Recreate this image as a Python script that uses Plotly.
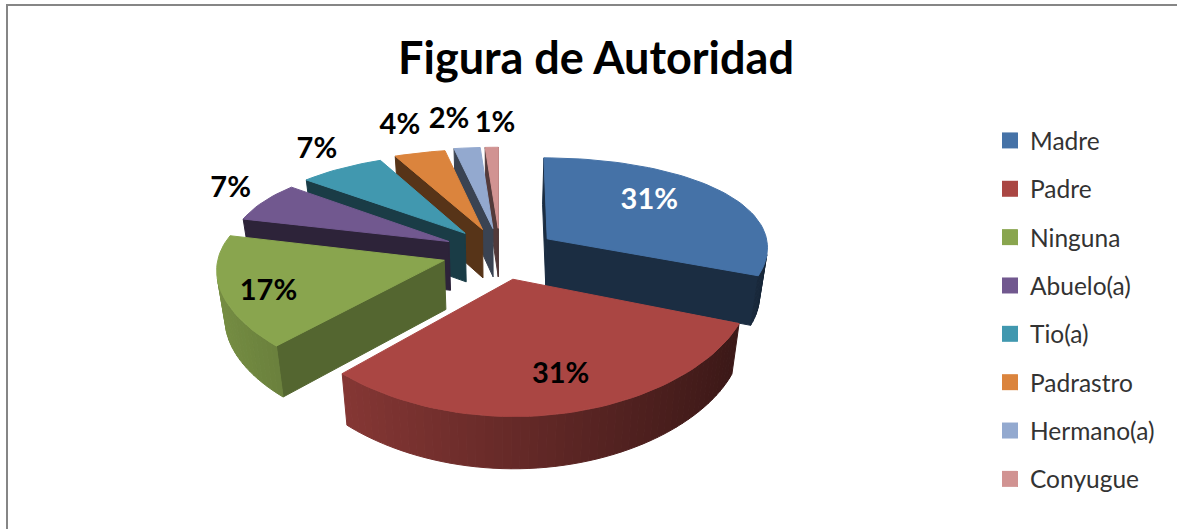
import math
import plotly.graph_objects as go

# ---- data ----
categories = ["Madre", "Padre", "Ninguna", "Abuelo(a)", "Tio(a)", "Padrastro", "Hermano(a)", "Conyugue"]
values = [31, 31, 17, 7, 7, 4, 2, 1]
colors = ["#4572A7", "#AA4643", "#89A54E", "#71588F", "#4198AF", "#DB843D", "#93A9CF", "#D19392"]
labels = ["31%", "31%", "17%", "7%", "7%", "4%", "2%", "1%"]
label_colors = ["white"] + ["black"] * 7

# ---- style / projection parameters ----
CX, CY = 500, 253
RX, RY = 231, 103
PERSP_X = 0.08
PERSP_Y = 0.174
PERSP_D = 0.05
EXPLODE = 0.25
DEPTH = 49
BOTTOM_SHRINK = 0.97
slice_scale = [0.96, 1.0, 0.975, 0.95, 0.96, 0.98, 1.0, 1.0]
label_radius = [0.56, 0.80, 0.80, 1.06, 1.15, 1.25, 1.30, 1.30]
label_nudge_x = [0, 3, 7, -12, -1, -4, -11, 5]
label_nudge_y = [-8, -6, 8, -8, -7, -9, -7, -3]
draw_order = [7, 6, 5, 4, 3, 2, 0, 1]
cut_shade = 0.40
cut_shades = {2: 0.62}


def proj(X, Y, bottom=False):
    x = RX * X / (1 - PERSP_X * Y)
    y = RY * Y / (1 - PERSP_Y * Y)
    if bottom:
        x *= BOTTOM_SHRINK
        y += DEPTH / (1 - PERSP_D * Y)
    return CX + x, CY + y


def shade(hex_color, f):
    r, g, b = (int(hex_color[i:i + 2], 16) for i in (1, 3, 5))
    return f"rgb({int(r * f)},{int(g * f)},{int(b * f)})"


def area(pts):
    return sum(pts[i][0] * pts[(i + 1) % len(pts)][1] - pts[(i + 1) % len(pts)][0] * pts[i][1]
               for i in range(len(pts)))


fig = go.Figure()


def poly(pts, color):
    fig.add_trace(go.Scatter(
        x=[p[0] for p in pts] + [pts[0][0]], y=[p[1] for p in pts] + [pts[0][1]],
        mode="lines", fill="toself", fillcolor=color,
        line=dict(color=color, width=1), hoverinfo="skip", showlegend=False))


total = sum(values)
starts = []
acc = 0
for v in values:
    starts.append(acc)
    acc += v

for i in draw_order:
    a0 = starts[i] / total * 2 * math.pi
    a1 = (starts[i] + values[i]) / total * 2 * math.pi
    mid = (a0 + a1) / 2
    ox, oy = EXPLODE * math.sin(mid), -EXPLODE * math.cos(mid)
    n = max(2, int((a1 - a0) / math.radians(2)))
    rim = []
    for k in range(n + 1):
        a = a0 + (a1 - a0) * k / n
        rim.append((ox + slice_scale[i] * math.sin(a), oy - slice_scale[i] * math.cos(a)))
    apex = (ox, oy)
    loop = [apex] + rim

    def side(P, Q, color):
        quad = [proj(*P), proj(*Q), proj(*Q, bottom=True), proj(*P, bottom=True)]
        if area(quad) < 0:
            poly(quad, color)

    cut = cut_shades.get(i, cut_shade)
    side(apex, rim[0], shade(colors[i], cut))
    side(rim[-1], apex, shade(colors[i], cut))
    for k in range(n):
        X = (rim[k][0] + rim[k + 1][0]) / 2 - ox
        side(rim[k], rim[k + 1], shade(colors[i], 0.6 - 0.27 * X))
    poly([proj(*p) for p in loop], colors[i])

# data labels
lx, ly = [], []
for i in range(len(values)):
    mid = (starts[i] + values[i] / 2) / total * 2 * math.pi
    r = label_radius[i]
    X = (EXPLODE + r) * math.sin(mid)
    Y = -(EXPLODE + r) * math.cos(mid)
    px, py = proj(X, Y)
    lx.append(px + label_nudge_x[i])
    ly.append(py + label_nudge_y[i])
fig.add_trace(go.Scatter(
    x=lx, y=ly, mode="text", text=labels, hoverinfo="skip", showlegend=False,
    textfont=dict(family="Lato", size=29, color=label_colors, weight=700)))

# legend entries
for c, col in zip(categories, colors):
    fig.add_trace(go.Scatter(
        x=[None], y=[None], mode="markers", name=c, legendgroup=c,
        marker=dict(symbol="square", size=16, color=col)))

fig.update_layout(
    width=1177, height=529, margin=dict(l=0, r=0, t=0, b=0),
    paper_bgcolor="white", plot_bgcolor="white",
    xaxis=dict(visible=False, range=[0, 1177], fixedrange=True),
    yaxis=dict(visible=False, range=[529, 0], fixedrange=True),
    title=dict(text="<b>Figura de Autoridad</b>", x=596 / 1177, xanchor="center",
               y=1 - 58 / 529, yanchor="middle",
               font=dict(family="Lato", size=45, color="black")),
    legend=dict(x=990 / 1177, y=1 - 118 / 529, xanchor="left", yanchor="top",
                font=dict(family="Lato", size=24.5, color="#333333"),
                tracegroupgap=13.5, itemwidth=30, bgcolor="rgba(0,0,0,0)"),
    shapes=[dict(type="rect", xref="paper", yref="paper",
                 x0=7 / 1177, x1=1.01, y0=-0.05, y1=1 - 5 / 529,
                 line=dict(color="#868686", width=2), layer="below")],
)
fig.write_html("out.html", config={"displayModeBar": False},
               post_script="document.body.style.margin='0';document.documentElement.style.overflow='hidden';")
